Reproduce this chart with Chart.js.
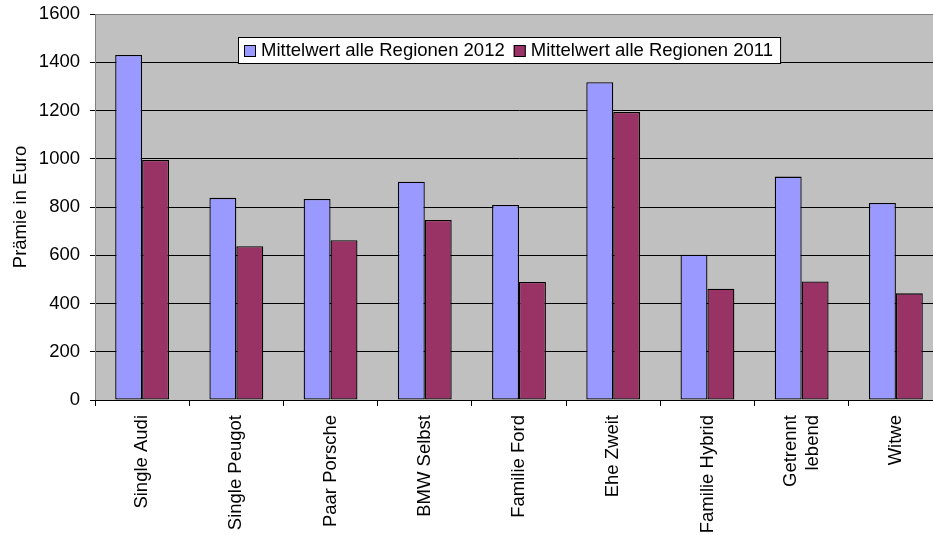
<!DOCTYPE html>
<html>
<head>
<meta charset="utf-8">
<script src="https://cdn.jsdelivr.net/npm/chart.js@4/dist/chart.umd.min.js"></script>
<style>
  html, body { margin: 0; padding: 0; background: #fff; overflow: hidden; }
  #wrap { width: 944px; height: 535px; }
</style>
</head>
<body>
<div id="wrap"><canvas id="chart" width="944" height="535"></canvas></div>
<script>
// Prämien je Tarifgruppe, 2012 gegen 2011
var categories = ['Single Audi', 'Single Peugot', 'Paar Porsche', 'BMW Selbst', 'Familie Ford',
  'Ehe Zweit', 'Familie Hybrid', ['Getrennt', 'lebend'], 'Witwe'];
var series2012 = [1430, 838, 833, 905, 808, 1317, 602, 926, 817];
var series2011 = [995, 637, 662, 746, 489, 1194, 461, 491, 442];
var seriesLabels = ['Mittelwert alle Regionen 2012', 'Mittelwert alle Regionen 2011'];
var seriesColors = ['#9999ff', '#993366'];
var yTicks = [0, 200, 400, 600, 800, 1000, 1200, 1400, 1600];

var FONT = '"Liberation Sans", Arial, sans-serif';
var FSIZE = 18.5;

// grey plot area + frame
var plotBackground = {
  id: 'plotBackground',
  beforeDraw: function (chart) {
    var a = chart.chartArea;
    var ctx = chart.ctx;
    ctx.save();
    ctx.fillStyle = '#c0c0c0';
    ctx.fillRect(a.left, a.top, a.right - a.left, a.bottom - a.top);
    ctx.restore();

    // centre two-line x labels on their tick (Chart.js puts the first line on it)
    var xs = chart.scales.x;
    var items = xs.getLabelItems(a);
    items.forEach(function (it) {
      if (Array.isArray(it.label) && !it._centred) {
        var lh = FSIZE * 1.2;
        it.options.translation[0] -= lh * (it.label.length - 1) / 2;
        it._centred = true;
      }
    });
  },
  afterDraw: function (chart) {
    var a = chart.chartArea;
    var ctx = chart.ctx;
    ctx.save();
    ctx.strokeStyle = '#808080';
    ctx.lineWidth = 1;
    ctx.beginPath();
    ctx.moveTo(a.left + 0.5, a.bottom);
    ctx.lineTo(a.left + 0.5, a.top + 0.5);
    ctx.lineTo(a.right - 0.5, a.top + 0.5);
    ctx.lineTo(a.right - 0.5, a.bottom);
    ctx.stroke();
    ctx.strokeStyle = '#000';
    ctx.beginPath();
    ctx.moveTo(a.left, a.bottom + 0.5);
    ctx.lineTo(a.right, a.bottom + 0.5);
    ctx.stroke();
    ctx.restore();
  }
};

// boxed legend inside the plot, like the original spreadsheet chart
var boxLegend = {
  id: 'boxLegend',
  afterDraw: function (chart) {
    var ctx = chart.ctx;
    var x = 238, y = 37, h = 26;
    ctx.save();
    ctx.font = FSIZE + 'px ' + FONT;
    ctx.textBaseline = 'middle';
    var dsets = chart.data.datasets;
    var w = 6;
    dsets.forEach(function (ds, i) {
      w += 12 + 5 + ctx.measureText(ds.label).width + (i < dsets.length - 1 ? 9 : 7);
    });
    ctx.fillStyle = '#fff';
    ctx.fillRect(x, y, w, h);
    ctx.strokeStyle = '#000';
    ctx.lineWidth = 1;
    ctx.strokeRect(x + 0.5, y + 0.5, w, h);
    var cx = x + 6;
    dsets.forEach(function (ds) {
      ctx.fillStyle = ds.backgroundColor;
      ctx.fillRect(cx, y + 8, 12, 12);
      ctx.strokeRect(cx + 0.5, y + 8.5, 11, 11);
      cx += 17;
      ctx.fillStyle = '#000';
      ctx.fillText(ds.label, cx, y + h / 2 + 1);
      cx += ctx.measureText(ds.label).width + 9;
    });
    ctx.restore();
  }
};

new Chart(document.getElementById('chart'), {
  type: 'bar',
  data: {
    labels: categories,
    datasets: [{
      label: seriesLabels[0],
      data: series2012,
      backgroundColor: seriesColors[0],
      borderColor: '#000',
      borderWidth: 1.3,
      borderSkipped: false,
      categoryPercentage: 0.5714,
      barPercentage: 1,
    }, {
      label: seriesLabels[1],
      data: series2011,
      backgroundColor: seriesColors[1],
      borderColor: '#000',
      borderWidth: 1.3,
      borderSkipped: false,
      categoryPercentage: 0.5714,
      barPercentage: 1,
    }],
  },
  options: {
    responsive: false,
    animation: false,
    devicePixelRatio: 1,
    layout: { padding: { top: 14, right: 1, left: 0, bottom: 0 } },
    scales: {
      x: {
        grid: { drawOnChartArea: false, color: '#000', tickLength: 6, offset: true },
        border: { color: '#000' },
        ticks: {
          color: '#000',
          font: { family: FONT, size: FSIZE },
          minRotation: 90,
          maxRotation: 90,
          padding: 9,
          autoSkip: false,
        },
        afterFit: function (scale) { scale.height = 135; },
      },
      y: {
        min: 0,
        max: 1600,
        afterBuildTicks: function (scale) {
          scale.ticks = yTicks.map(function (v) { return { value: v }; });
        },
        grid: {
          color: function (c) { return c.tick && c.tick.value === 1600 ? '#808080' : '#000'; },
          tickColor: '#000',
          tickLength: 5,
        },
        border: { color: '#808080' },
        ticks: {
          color: '#000',
          font: { family: FONT, size: FSIZE },
          padding: 10,
          callback: function (v) { return String(v); },
        },
        title: {
          display: true,
          text: 'Prämie in Euro',
          color: '#000',
          font: { family: FONT, size: FSIZE },
          padding: { top: 10, bottom: 0 },
        },
        afterFit: function (scale) {
          scale.width = 95;
          scale.paddingTop = 0;
        },
      },
    },
    plugins: {
      legend: { display: false },
      tooltip: { enabled: false },
    },
  },
  plugins: [plotBackground, boxLegend],
});
</script>
</body>
</html>
